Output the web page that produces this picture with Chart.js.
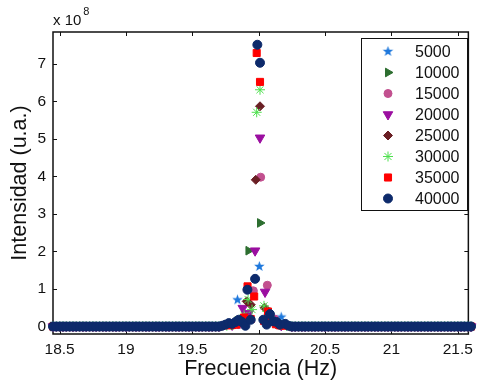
<!DOCTYPE html>
<html lang="es">
<head>
    <meta charset="utf-8" />
    <title>Intensidad vs Frecuencia</title>
    <script src="https://cdn.jsdelivr.net/npm/chart.js"></script>
    <style>
        html, body { margin: 0; padding: 0; background: #fff; }
        #wrap { position: relative; width: 479px; height: 383px; }
    </style>
</head>
<body>
    <div id="wrap"><canvas id="specChart"></canvas></div>
    <script>
        // Datos (intensidad en unidades de 1e8)
        const series = ['5000', '10000', '15000', '20000', '25000', '30000', '35000', '40000'];
        const xTicks = [18.5, 19, 19.5, 20, 20.5, 21, 21.5];
        const yTicks = [0, 1, 2, 3, 4, 5, 6, 7];

        // Frecuencias de la linea base (intensidad ~0), fuera del pico
        const baseFreq = [18.45, 18.475, 18.5, 18.525, 18.55, 18.575, 18.6, 18.625, 18.65, 18.675, 18.7,
            18.725, 18.75, 18.775, 18.8, 18.825, 18.85, 18.875, 18.9, 18.925, 18.95, 18.975, 19, 19.025,
            19.05, 19.075, 19.1, 19.125, 19.15, 19.175, 19.2, 19.225, 19.25, 19.275, 19.3, 19.325, 19.35,
            19.375, 19.4, 19.425, 19.45, 19.475, 19.5, 19.525, 19.55, 19.575, 19.6, 19.625, 19.65, 19.675, 19.7,
            20.25, 20.275, 20.3, 20.325, 20.35, 20.375, 20.4, 20.425, 20.45, 20.475, 20.5, 20.525, 20.55,
            20.575, 20.6, 20.625, 20.65, 20.675, 20.7, 20.725, 20.75, 20.775, 20.8, 20.825, 20.85, 20.875,
            20.9, 20.925, 20.95, 20.975, 21, 21.025, 21.05, 21.075, 21.1, 21.125, 21.15, 21.175, 21.2,
            21.225, 21.25, 21.275, 21.3, 21.325, 21.35, 21.375, 21.4, 21.425, 21.45, 21.475, 21.5, 21.525,
            21.55, 21.575, 21.6];
        const baseVal = 0;

        // Puntos alrededor del pico (19.7 - 20.25 Hz)
        const pf5000 = [19.84, 20.005, 20.17];
        const pv5000 = [0.71, 1.60, 0.25];
        const pf10000 = [19.76, 19.84, 19.923, 20.01, 20.09, 20.17];
        const pv10000 = [0.04, 0.15, 2.02, 2.76, 0.25, 0.05];
        const pf15000 = [19.8, 19.85, 19.905, 19.96, 20.015, 20.065, 20.12, 20.17];
        const pv15000 = [0.03, 0.05, 0.25, 0.95, 3.98, 1.10, 0.20, 0.05];
        const pf20000 = [19.8, 19.84, 19.88, 19.925, 19.973, 20.01, 20.048, 20.09, 20.13, 20.17];
        const pv20000 = [0.04, 0.10, 0.49, 0.35, 2.02, 5.03, 0.92, 0.20, 0.08, 0.03];
        const pf25000 = [19.8, 19.835, 19.87, 19.91, 19.94, 19.978, 20.01, 20.045, 20.08, 20.12, 20.16];
        const pv25000 = [0.03, 0.08, 0.15, 0.67, 0.58, 3.91, 5.87, 0.50, 0.25, 0.10, 0.04];
        const pf30000 = [19.76, 19.8, 19.83, 19.86, 19.89, 19.92, 19.95, 19.985, 20.01, 20.04, 20.065, 20.095, 20.13, 20.17, 20.21];
        const pv30000 = [0.02, 0.04, 0.08, 0.12, 0.30, 0.72, 0.45, 5.71, 6.31, 0.55, 0.40, 0.18, 0.08, 0.04, 0.02];
        const pf35000 = [19.76, 19.8, 19.83, 19.86, 19.89, 19.916, 19.94, 19.966, 19.985, 20.01, 20.04, 20.07, 20.1, 20.13, 20.16, 20.2];
        const pv35000 = [0.03, 0.04, 0.05, 0.10, 0.24, 1.07, 0.20, 0.80, 7.29, 6.52, 0.15, 0.40, 0.12, 0.06, 0.03, 0.02];
        const pf40000 = [19.725, 19.75, 19.775, 19.8, 19.825, 19.85, 19.875, 19.9, 19.915, 19.94, 19.973, 19.99, 20.01, 20.035, 20.06, 20.085, 20.11, 20.135, 20.16, 20.2, 20.225];
        const pv40000 = [0.02, 0.05, 0.09, 0.07, 0.12, 0.18, 0.12, 0.02, 0.98, 0.18, 1.27, 7.51, 7.03, 0.18, 0.05, 0.33, 0.14, 0.12, 0.05, 0.07, 0.02];

        const peakFreq = [pf5000, pf10000, pf15000, pf20000, pf25000, pf30000, pf35000, pf40000];
        const peakVal = [pv5000, pv10000, pv15000, pv20000, pv25000, pv30000, pv35000, pv40000];

        // estrella rellena de 5 puntas (no existe en Chart.js)
        function pentagram(color, r) {
            const c = document.createElement('canvas');
            c.width = c.height = Math.ceil(2 * r + 2);
            const g = c.getContext('2d');
            const cx = c.width / 2, cy = c.height / 2;
            g.beginPath();
            for (let k = 0; k < 10; k++) {
                const rr = k % 2 === 0 ? r : r * 0.42;
                const a = -Math.PI / 2 + k * Math.PI / 5;
                g.lineTo(cx + rr * Math.cos(a), cy + rr * Math.sin(a));
            }
            g.closePath();
            g.fillStyle = color;
            g.fill();
            return c;
        }

        const styles = [
            { color: '#1e78dc', pointStyle: pentagram('#1e78dc', 5.5), radius: 5.5, rotation: 0 },
            { color: '#2d6e30', pointStyle: 'triangle', radius: 5, rotation: 90 },
            { color: '#c2508f', pointStyle: 'circle', radius: 4, rotation: 0 },
            { color: '#9b0ea0', pointStyle: 'triangle', radius: 5.5, rotation: 180 },
            { color: '#6a1f24', pointStyle: 'rectRot', radius: 4.5, rotation: 0 },
            { color: '#4ee04e', pointStyle: 'star', radius: 5, rotation: 0 },
            { color: '#ff0000', pointStyle: 'rect', radius: 5, rotation: 0 },
            { color: '#0d2a6b', pointStyle: 'circle', radius: 4.5, rotation: 0 }
        ];

        const datasets = series.map((name, i) => ({
            label: name,
            data: baseFreq.map(f => ({ x: f, y: baseVal }))
                .concat(peakFreq[i].map((f, j) => ({ x: f, y: peakVal[i][j] }))),
            showLine: false,
            pointStyle: styles[i].pointStyle,
            pointRadius: styles[i].radius,
            pointRotation: styles[i].rotation,
            backgroundColor: styles[i].color,
            borderColor: styles[i].color,
            borderWidth: 1,
            order: series.length - 1 - i,   // el ultimo (40000) queda encima
            clip: false
        }));

        const FONT = '"Liberation Sans", Arial, sans-serif';
        const INK = '#111';

        // marco con marcas hacia dentro, titulos y leyenda
        const decor = {
            id: 'decor',
            beforeDatasetsDraw(chart) {
                const { ctx, chartArea: a, scales } = chart;
                ctx.save();
                ctx.strokeStyle = INK;
                ctx.lineWidth = 1;
                ctx.beginPath();
                scales.x.ticks.forEach(t => {
                    const px = Math.round(scales.x.getPixelForValue(t.value)) + 0.5;
                    ctx.moveTo(px, a.bottom); ctx.lineTo(px, a.bottom - 4);
                    ctx.moveTo(px, a.top); ctx.lineTo(px, a.top + 4);
                });
                scales.y.ticks.forEach(t => {
                    const py = Math.round(scales.y.getPixelForValue(t.value)) + 0.5;
                    ctx.moveTo(a.left, py); ctx.lineTo(a.left + 4, py);
                    ctx.moveTo(a.right, py); ctx.lineTo(a.right - 4, py);
                });
                ctx.stroke();
                ctx.lineWidth = 1.5;
                ctx.strokeRect(a.left, a.top, a.right - a.left, a.bottom - a.top);
                ctx.restore();
            },
            afterDraw(chart) {
                const { ctx, chartArea: a } = chart;
                ctx.save();
                ctx.fillStyle = INK;
                // titulos de los ejes
                ctx.font = '21.5px ' + FONT;
                ctx.textAlign = 'center';
                ctx.textBaseline = 'middle';
                ctx.fillText('Frecuencia (Hz)', (a.left + a.right) / 2, 369);
                ctx.save();
                ctx.translate(20, (a.top + a.bottom) / 2);
                ctx.rotate(-Math.PI / 2);
                ctx.fillText('Intensidad (u.a.)', 0, 0);
                ctx.restore();
                // factor de escala
                ctx.textAlign = 'left';
                ctx.font = '15px ' + FONT;
                ctx.fillText('x 10', a.left, 21);
                const w = ctx.measureText('x 10').width;
                ctx.font = '11px ' + FONT;
                ctx.fillText('8', a.left + w + 2, 12);

                // leyenda
                const lx = 361.5, ly = 38.5, lw = 106, lh = 172;
                ctx.fillStyle = '#fff';
                ctx.fillRect(lx, ly, lw, lh);
                ctx.strokeStyle = INK;
                ctx.lineWidth = 1;
                ctx.strokeRect(lx, ly, lw, lh);
                chart.data.datasets.forEach((ds, i) => {
                    const y = 51.5 + 21 * i;
                    ctx.fillStyle = ds.backgroundColor;
                    ctx.strokeStyle = ds.borderColor;
                    ctx.lineWidth = ds.borderWidth;
                    Chart.helpers.drawPoint(ctx, {
                        pointStyle: ds.pointStyle,
                        rotation: ds.pointRotation,
                        radius: ds.pointRadius,
                        borderWidth: ds.borderWidth
                    }, 388, y);
                    ctx.fillStyle = INK;
                    ctx.font = '16px ' + FONT;
                    ctx.textAlign = 'left';
                    ctx.textBaseline = 'middle';
                    ctx.fillText(ds.label, 415, y + 1);
                });
                ctx.restore();
            }
        };

        const specChart = new Chart(document.getElementById('specChart'), {
            type: 'scatter',
            data: { datasets: datasets },
            options: {
                responsive: true,
                maintainAspectRatio: false,
                animation: false,
                layout: { padding: { top: 32, right: 7, left: 0, bottom: 0 } },
                plugins: { legend: { display: false }, tooltip: { enabled: false } },
                scales: {
                    x: {
                        type: 'linear',
                        min: 18.45,
                        max: 21.58,
                        afterBuildTicks: s => { s.ticks = xTicks.map(v => ({ value: v })); },
                        afterFit: s => { s.height = 49; },
                        grid: { display: false, drawTicks: false },
                        border: { display: false },
                        ticks: {
                            padding: 6,
                            maxRotation: 0,
                            color: INK,
                            font: { family: FONT, size: 15.5 },
                            callback: v => String(v)
                        }
                    },
                    y: {
                        type: 'linear',
                        min: -0.2,
                        max: 7.85,
                        afterBuildTicks: s => { s.ticks = yTicks.map(v => ({ value: v })); },
                        afterFit: s => { s.width = 53; },
                        grid: { display: false, drawTicks: false },
                        border: { display: false },
                        ticks: {
                            padding: 7,
                            color: INK,
                            font: { family: FONT, size: 15.5 },
                            callback: v => String(v)
                        }
                    }
                }
            },
            plugins: [decor]
        });
    </script>
</body>
</html>
